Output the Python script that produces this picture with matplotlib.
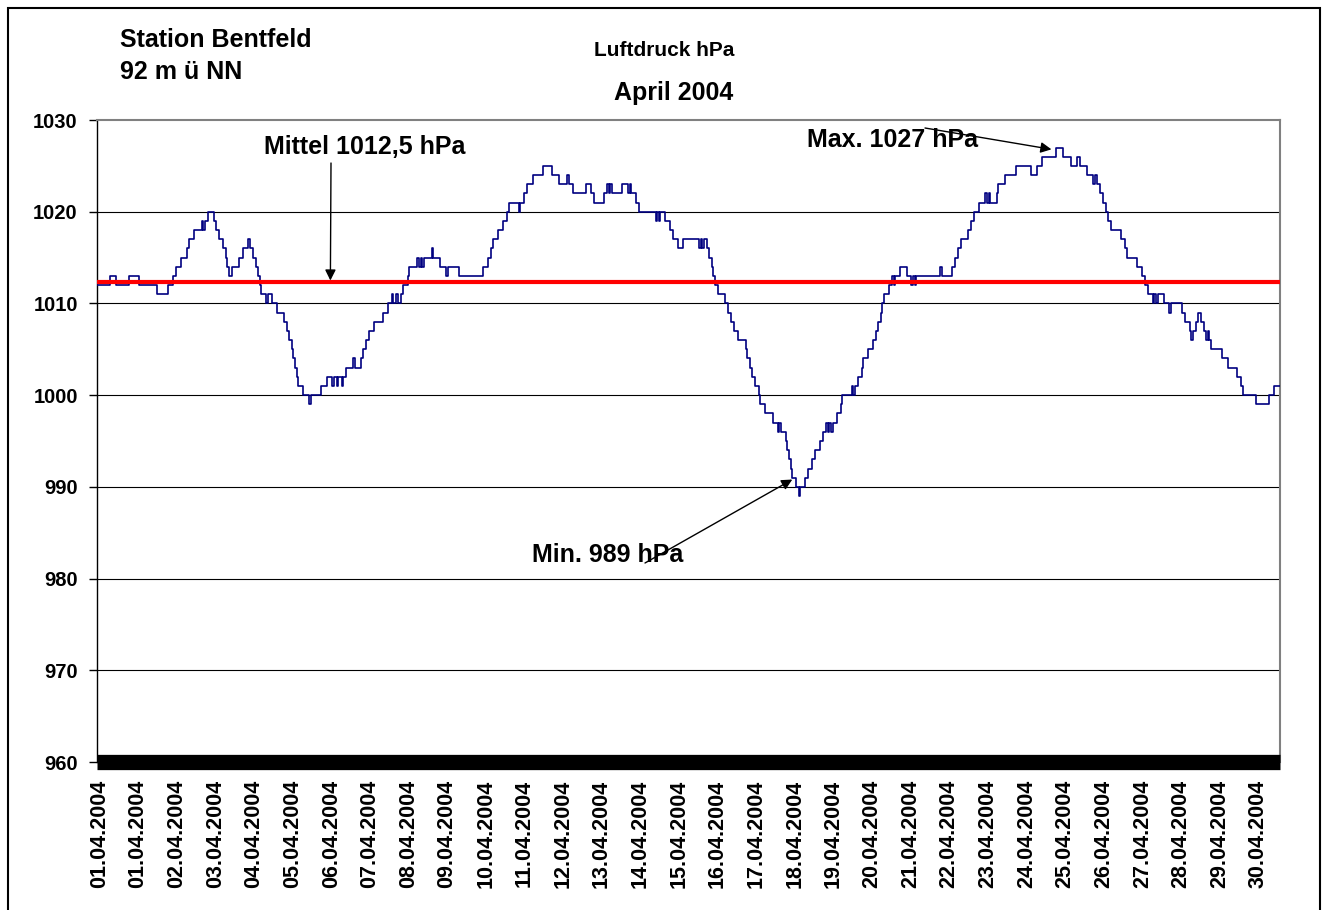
import numpy as np
import matplotlib
matplotlib.use("Agg")
import matplotlib.pyplot as plt
from matplotlib.patches import Rectangle

plt.rcParams['font.family'] = ['Liberation Sans', 'DejaVu Sans']

# ---- data: hour index at which the reading changes, and the new reading (hPa)
change_hour = [0, 8, 12, 20, 26, 37, 44, 47, 49, 52, 56, 57, 60, 65, 66, 67, 69, 73, 74, 76,
               78, 80, 81, 82, 84, 88, 91, 94, 95, 97, 99, 100, 101, 102, 105, 106, 109, 112, 116, 118,
               119, 121, 122, 123, 124, 125, 128, 132, 133, 139, 143, 146, 147, 149, 150, 152, 153, 155, 159, 160,
               164, 165, 167, 169, 172, 178, 181, 183, 184, 186, 187, 189, 190, 193, 194, 199, 200, 201, 202, 203,
               208, 209, 213, 217, 218, 225, 240, 243, 245, 246, 249, 252, 255, 256, 262, 263, 265, 267, 271, 277,
               283, 287, 292, 293, 296, 304, 307, 309, 315, 317, 318, 319, 320, 326, 330, 331, 332, 335, 337, 347,
               348, 349, 350, 353, 356, 358, 361, 364, 374, 375, 376, 377, 379, 380, 382, 383, 384, 386, 390, 392,
               394, 396, 398, 403, 404, 406, 407, 409, 411, 412, 415, 420, 423, 424, 425, 428, 429, 430, 431, 432,
               434, 436, 437, 440, 442, 444, 446, 449, 451, 453, 454, 455, 456, 457, 460, 462, 463, 469, 470, 471,
               473, 475, 476, 479, 482, 484, 485, 487, 488, 489, 492, 494, 495, 496, 499, 503, 506, 507, 508, 509,
               524, 525, 531, 533, 535, 537, 541, 543, 545, 548, 552, 553, 554, 555, 559, 560, 564, 571, 580, 584,
               587, 596, 600, 605, 609, 611, 615, 619, 620, 621, 623, 625, 627, 628, 630, 636, 639, 640, 646, 649,
               651, 653, 656, 657, 658, 659, 663, 666, 667, 674, 676, 679, 680, 681, 683, 684, 686, 688, 689, 690,
               691, 692, 699, 703, 708, 711, 712, 720, 728, 731]
pressure = [1012, 1013, 1012, 1013, 1012, 1011, 1012, 1013, 1014, 1015, 1016, 1017, 1018, 1019, 1018, 1019, 1020, 1019, 1018, 1017,
            1016, 1015, 1014, 1013, 1014, 1015, 1016, 1017, 1016, 1015, 1014, 1013, 1012, 1011, 1010, 1011, 1010, 1009, 1008, 1007,
            1006, 1005, 1004, 1003, 1002, 1001, 1000, 999, 1000, 1001, 1002, 1001, 1002, 1001, 1002, 1001, 1002, 1003, 1004, 1003,
            1004, 1005, 1006, 1007, 1008, 1009, 1010, 1011, 1010, 1011, 1010, 1011, 1012, 1013, 1014, 1015, 1014, 1015, 1014, 1015,
            1016, 1015, 1014, 1013, 1014, 1013, 1014, 1015, 1016, 1017, 1018, 1019, 1020, 1021, 1020, 1021, 1022, 1023, 1024, 1025,
            1024, 1023, 1024, 1023, 1022, 1023, 1022, 1021, 1022, 1023, 1022, 1023, 1022, 1023, 1022, 1023, 1022, 1021, 1020, 1019,
            1020, 1019, 1020, 1019, 1018, 1017, 1016, 1017, 1016, 1017, 1016, 1017, 1016, 1015, 1014, 1013, 1012, 1011, 1010, 1009,
            1008, 1007, 1006, 1005, 1004, 1003, 1002, 1001, 1000, 999, 998, 997, 996, 997, 996, 995, 994, 993, 992, 991,
            990, 989, 990, 991, 992, 993, 994, 995, 996, 997, 996, 997, 996, 997, 998, 999, 1000, 1001, 1000, 1001,
            1002, 1003, 1004, 1005, 1006, 1007, 1008, 1009, 1010, 1011, 1012, 1013, 1012, 1013, 1014, 1013, 1012, 1013, 1012, 1013,
            1014, 1013, 1014, 1015, 1016, 1017, 1018, 1019, 1020, 1021, 1022, 1021, 1022, 1021, 1022, 1023, 1024, 1025, 1024, 1025,
            1026, 1027, 1026, 1025, 1026, 1025, 1024, 1023, 1024, 1023, 1022, 1021, 1020, 1019, 1018, 1017, 1016, 1015, 1014, 1013,
            1012, 1011, 1010, 1011, 1010, 1011, 1010, 1009, 1010, 1009, 1008, 1007, 1006, 1007, 1008, 1009, 1008, 1007, 1006, 1007,
            1006, 1005, 1004, 1003, 1002, 1001, 1000, 999, 1000, 1001]
end_hour = 735

mean_value = 1012.3
mean_label = "Mittel 1012,5 hPa"
max_label = "Max. 1027 hPa"
min_label = "Min. 989 hPa"
max_point = (593, 1026.8)
min_point = (432, 990.8)

tick_labels = ["01.04.2004"] + ["%02d.04.2004" % d for d in range(1, 31)]
tick_hours = [24 * k + 1.5 for k in range(len(tick_labels))]
y_ticks = [960, 970, 980, 990, 1000, 1010, 1020, 1030]

# ---- figure
W, H = 1328, 910
fig = plt.figure(figsize=(W / 100, H / 100), dpi=100)
fig.patch.set_facecolor('white')

L, R, T, B = 97, 1280, 120, 762
ax = fig.add_axes([L / W, 1 - B / H, (R - L) / W, (B - T) / H])
ax.set_xlim(0, end_hour)
ax.set_ylim(960, 1030)

xs = list(change_hour) + [end_hour]
ys = list(pressure) + [pressure[-1]]
ax.plot(xs, ys, drawstyle='steps-post', color='#000080', lw=1.2, zorder=4)

ax.axhline(mean_value, color='#FF0000', lw=3.0, zorder=5, solid_capstyle='butt')

for v in y_ticks[1:-1]:
    ax.axhline(v, color='black', lw=0.8, zorder=1)

# spines
for s in ['top', 'right']:
    ax.spines[s].set_color('#808080')
    ax.spines[s].set_linewidth(1.5)
ax.spines['left'].set_color('black')
ax.spines['left'].set_linewidth(1.0)
ax.spines['bottom'].set_visible(False)
# thick black base band at 960
ax.axhline(960, color='black', lw=11, zorder=6, clip_on=False, solid_capstyle='butt')

ax.set_yticks(y_ticks)
ax.set_yticklabels([str(v) for v in y_ticks], fontsize=14.5, fontweight='bold')
ax.tick_params(axis='y', direction='out', length=5.8, width=1, pad=8)

ax.set_xticks(tick_hours)
ax.set_xticklabels(tick_labels, rotation=90, fontsize=15.5, fontweight='bold')
ax.tick_params(axis='x', length=0, pad=13)

# ---- texts (figure pixel positions, y from top)
def fp(x, y):
    return (x / W, 1 - y / H)

fig.text(*fp(120, 40), "Station Bentfeld", fontsize=18, fontweight='bold', ha='left', va='center')
fig.text(*fp(120, 72), "92 m ü NN", fontsize=18, fontweight='bold', ha='left', va='center')
fig.text(*fp(664, 50), "Luftdruck hPa", fontsize=15, fontweight='bold', ha='center', va='center')
fig.text(*fp(674, 93), "April 2004", fontsize=18, fontweight='bold', ha='center', va='center')
fig.text(*fp(365, 147), mean_label, fontsize=18, fontweight='bold', ha='center', va='center')
fig.text(*fp(807, 140), max_label, fontsize=18, fontweight='bold', ha='left', va='center')
fig.text(*fp(532, 555), min_label, fontsize=18, fontweight='bold', ha='left', va='center')

arrow = dict(arrowstyle='-|>', color='black', lw=1.0, mutation_scale=16, shrinkA=0, shrinkB=0)
ax.annotate('', xy=(145, mean_value + 0.2), xycoords='data',
            xytext=(331, H - 163), textcoords='figure pixels', arrowprops=arrow, zorder=7)
ax.annotate('', xy=max_point, xycoords='data',
            xytext=(925, H - 128), textcoords='figure pixels', arrowprops=arrow, zorder=7)
ax.annotate('', xy=min_point, xycoords='data',
            xytext=(645, H - 563), textcoords='figure pixels', arrowprops=arrow, zorder=7)

# outer border (bottom edge lies below the picture, as in the reference)
fig.add_artist(Rectangle((8 / W, -0.05), (1320 - 8) / W, 1.05 - 8 / H, transform=fig.transFigure,
                         fill=False, edgecolor='black', lw=1.5))

fig.savefig('out.png', dpi=100)
